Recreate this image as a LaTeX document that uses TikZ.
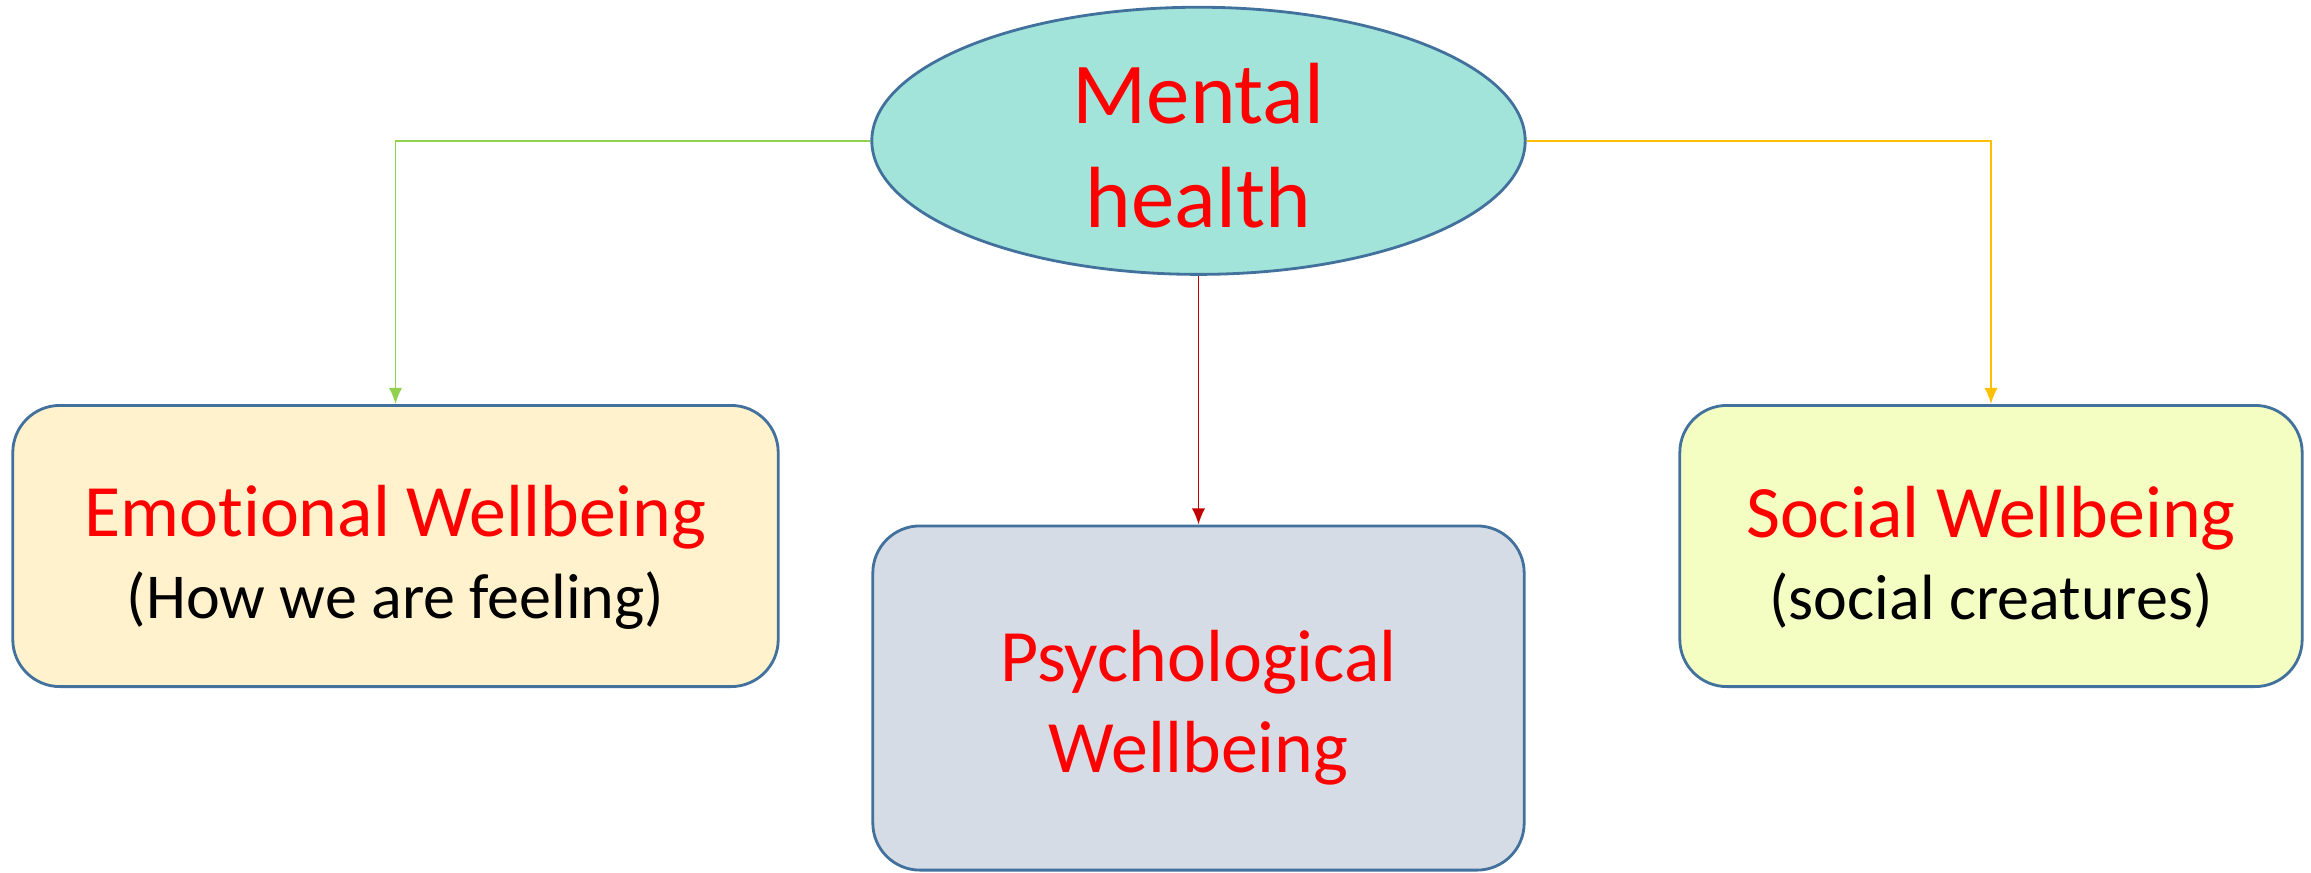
\documentclass[tikz,border=0pt]{standalone}
\usepackage{fontspec}
\setmainfont{Carlito}[Ligatures=NoCommon]
\usetikzlibrary{shapes.geometric,arrows.meta}
\definecolor{edgeblue}{HTML}{41719C}
\definecolor{mhteal}{HTML}{A2E4D9}
\definecolor{ewfill}{HTML}{FFF2CC}
\definecolor{pwfill}{HTML}{D6DCE5}
\definecolor{swfill}{HTML}{F4FEC3}
\definecolor{wbred}{HTML}{FF0000}
\definecolor{ewgreen}{HTML}{92D050}
\definecolor{swyellow}{HTML}{FFC000}
\definecolor{pwred}{HTML}{C00000}
% strut to push the first line down a little
\newcommand{\toplift}[1]{\rule{0pt}{#1}}

\begin{document}
\begin{tikzpicture}[x=0.01cm,y=-0.01cm,>={Latex[length=4.6pt,width=3.8pt]},
  wbbox/.style={draw=edgeblue,line width=0.8pt,rounded corners=13.4pt,align=center,inner sep=0pt},
  link/.style={->,line width=0.5pt}]
\useasboundingbox (0,0) rectangle (2311,872);
\node[ellipse,draw=edgeblue,fill=mhteal,line width=0.8pt,inner sep=0pt,
  minimum width=6.53cm,minimum height=2.67cm,align=center,
  font=\fontsize{24.7}{29.5}\selectfont,text=wbred] (mh) at (1198.5,140.8) {\toplift{19.8pt}Mental\\health};
\node[wbbox,fill=ewfill,minimum width=7.65cm,minimum height=2.81cm,
  font=\fontsize{18.2}{23.2}\selectfont] (ew) at (395.5,546)
  {{\fontsize{21}{25}\selectfont\color{wbred}\toplift{21pt}Emotional Wellbeing}\\(How we are feeling)};
\node[wbbox,fill=pwfill,minimum width=6.51cm,minimum height=3.44cm,
  font=\fontsize{21}{25.8}\selectfont,text=wbred] (pw) at (1198.5,698) {\toplift{20pt}Psychological\\Wellbeing};
\node[wbbox,fill=swfill,minimum width=6.22cm,minimum height=2.81cm,
  font=\fontsize{18.2}{23.2}\selectfont] (sw) at (1991,546)
  {{\fontsize{21}{25}\selectfont\color{wbred}\toplift{21pt}Social Wellbeing}\\(social creatures)};
\draw[link,ewgreen] (mh.west) -| (ew.north);
\draw[link,swyellow] (mh.east) -| (sw.north);
\draw[link,pwred] (mh.south) -- (pw.north);
\end{tikzpicture}
\end{document}
